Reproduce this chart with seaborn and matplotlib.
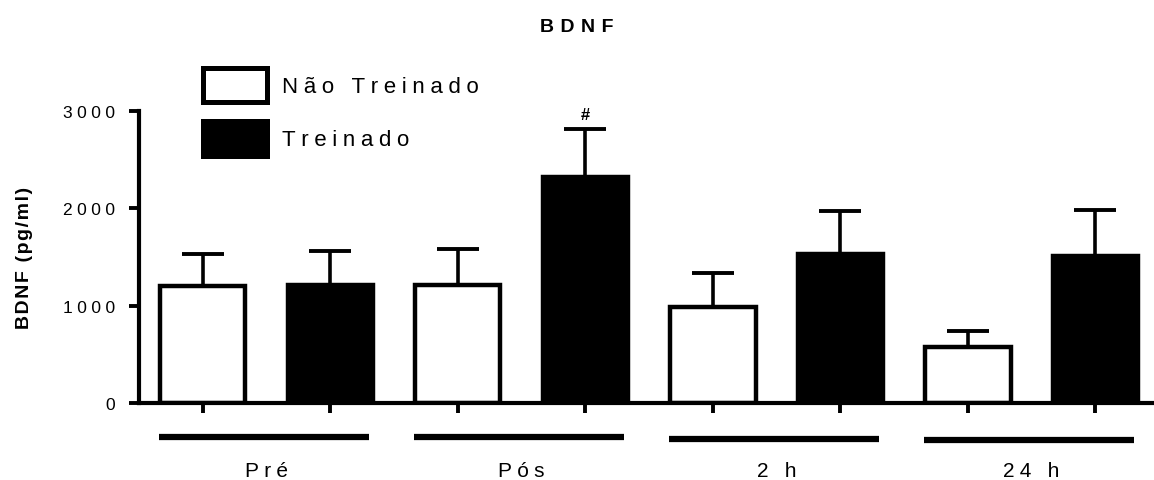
import numpy as np
import pandas as pd
import matplotlib
matplotlib.use("Agg")
import matplotlib.pyplot as plt
from matplotlib.patches import Patch
import seaborn as sns

# Data: BDNF concentration (mean and SEM) per time point and group
times = ["Pré", "Pós", "2 h", "24 h"]
groups = ["Não Treinado", "Treinado"]
nao_treinado_mean = [1200, 1215, 985, 575]
treinado_mean = [1215, 2320, 1535, 1515]
nao_treinado_sem = [335, 370, 350, 160]
treinado_sem = [350, 495, 435, 465]
y_ticks = [0, 1000, 2000, 3000]

HS = "\u200a"  # hair space used for letter spacing


def spaced(s, n=2):
    return (HS * n).join(list(s))


df = pd.DataFrame({
    "time": times * 2,
    "group": [groups[0]] * 4 + [groups[1]] * 4,
    "mean": nao_treinado_mean + treinado_mean,
    "sem": nao_treinado_sem + treinado_sem,
})

sns.set_style("ticks", {"axes.edgecolor": "black", "xtick.color": "black",
                        "ytick.color": "black", "text.color": "black",
                        "axes.labelcolor": "black"})
plt.rcParams["font.family"] = ["Liberation Sans", "DejaVu Sans"]

W, H = 1154, 481
fig = plt.figure(figsize=(W / 100, H / 100), dpi=100)
ax = fig.add_axes([139 / W, (H - 404) / H, (W - 139) / W, (404 - 112) / H])

sns.barplot(data=df, x="time", y="mean", hue="group", order=times,
            hue_order=groups, palette={groups[0]: "white", groups[1]: "black"},
            width=1.0, gap=0.33, errorbar=None, ax=ax, legend=False,
            edgecolor="black", linewidth=3.2, zorder=2)

# Upper-only error bars centred on each bar
for patch, (_, row) in zip(ax.patches, df.iterrows()):
    cx = patch.get_x() + patch.get_width() / 2
    ax.errorbar(cx, row["mean"], yerr=[[0], [row["sem"]]], fmt="none",
                ecolor="black", elinewidth=2.6, capsize=15, capthick=2.8,
                zorder=1)

# Significance mark over the Treinado bar at Pós
pos_t = df[(df.time == "Pós") & (df.group == "Treinado")].iloc[0]
ax.text(1 + 0.25, pos_t["mean"] + pos_t["sem"] + 70, "#", ha="center",
        va="bottom", fontsize=12, fontweight="bold")

ax.set_xlim(-0.5, 3.48)
ax.set_ylim(0, 3000)
ax.set_yticks(y_ticks)
ax.set_yticklabels([spaced(str(t), 3) for t in y_ticks], fontsize=12.5)
bar_centres = [p.get_x() + p.get_width() / 2 for p in ax.patches]
ax.set_xticks(sorted(bar_centres))
ax.set_xticklabels([])
ax.tick_params(axis="both", direction="out", length=7, width=2.8, pad=6,
               color="black")
ax.tick_params(axis="y", pad=10)
for side in ["top", "right"]:
    ax.spines[side].set_visible(False)
for side in ["left", "bottom"]:
    ax.spines[side].set_linewidth(3)
    ax.spines[side].set_color("black")
ax.set_xlabel("")
ax.set_ylabel(spaced("BDNF (pg/ml)", 1), fontsize=14, fontweight="bold",
              labelpad=22)

# Group underlines and labels below the axis
trans = ax.get_xaxis_transform()
line_y = [-0.115, -0.118, -0.123, -0.128]
for i, name in enumerate(times):
    ax.plot([i - 0.42, i + 0.40], [line_y[i]] * 2, color="black", lw=4.5,
            transform=trans, clip_on=False, solid_capstyle="butt")
    ax.text(i, -0.23, spaced(name, 3), transform=trans, ha="center",
            va="center", fontsize=15)

fig.text(577 / W, 1 - 27 / H, spaced("BDNF", 4), ha="center",
         va="center", fontsize=14, fontweight="bold")

# Legend
handles = [Patch(facecolor="white", edgecolor="black", linewidth=3.6),
           Patch(facecolor="black", edgecolor="black", linewidth=3.6)]
leg = fig.legend(handles, [spaced(g, 3) for g in groups],
                 loc="upper left", bbox_to_anchor=(203 / W, 1 - 69 / H),
                 frameon=False, fontsize=16, handlelength=2.9,
                 handleheight=2.0, labelspacing=0.85, handletextpad=0.65,
                 borderaxespad=0, borderpad=0)

fig.savefig("out.png", dpi=100)
